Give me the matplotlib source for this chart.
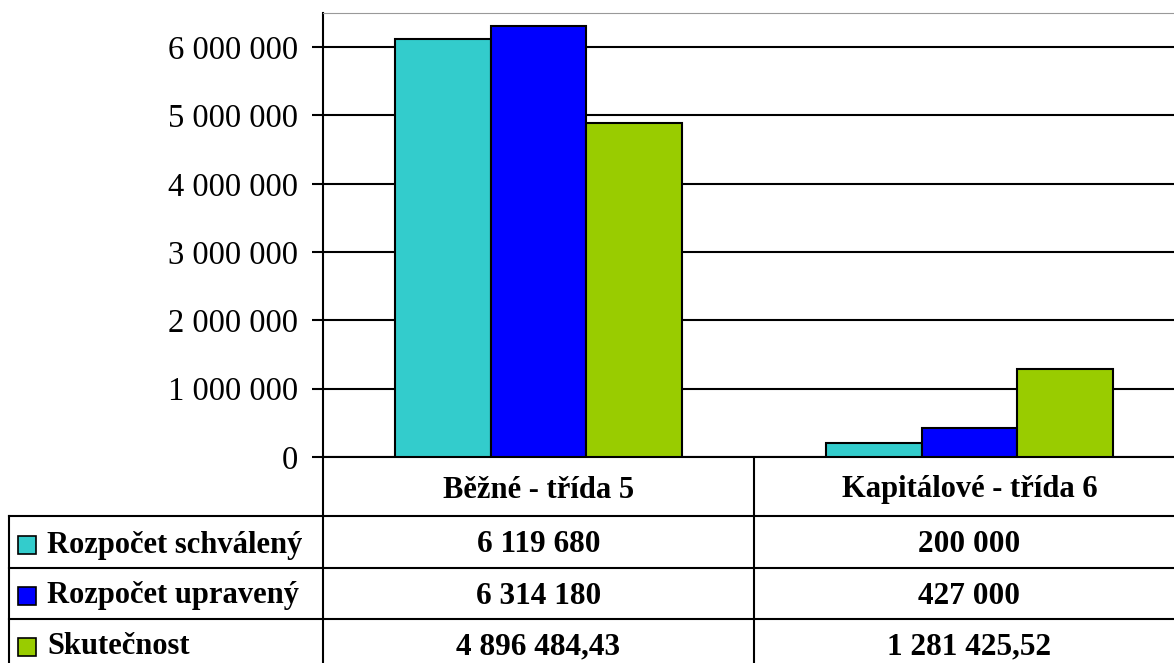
import matplotlib.pyplot as plt
from matplotlib.patches import Rectangle
import numpy as np

categories = ['Běžné - třída 5', 'Kapitálové - třída 6']
series_names = ['Rozpočet schválený', 'Rozpočet upravený', 'Skutečnost']
schvaleny = [6119680, 200000]
upraveny = [6314180, 427000]
skutecnost = [4896484.43, 1281425.52]
values = [schvaleny, upraveny, skutecnost]
colors = ['#33CCCC', '#0000FF', '#99CC00']
yticks = [0, 1000000, 2000000, 3000000, 4000000, 5000000, 6000000]


def cz(v):
    # ceske formatovani: mezera jako oddelovac tisicu, carka pro desetiny
    if float(v).is_integer():
        return f"{int(v):,}".replace(',', ' ')
    s = f"{v:,.2f}"
    return s.replace(',', ' ').replace('.', ',')


W, H = 1174, 663
fig = plt.figure(figsize=(W / 100, H / 100), dpi=100)
plt.rcParams['font.family'] = ['Liberation Serif', 'DejaVu Serif']

# pozadi pro tabulku (souradnice v pixelech)
bg = fig.add_axes([0, 0, 1, 1])
bg.set_xlim(0, W)
bg.set_ylim(H, 0)
bg.axis('off')

x0, x_right = 323, 1185
y_top, y_zero = 13, 457
ax = fig.add_axes([x0 / W, (H - y_zero) / H, (x_right - x0) / W, (y_zero - y_top) / H])

n = len(series_names)
w = 0.2227
x = np.arange(len(categories))
for i in range(n):
    ax.bar(x + (i - 1) * w, values[i], w, color=colors[i], edgecolor='black',
           linewidth=1.5, zorder=3)

ax.set_xlim(-0.5, len(categories) - 0.5)
ax.set_ylim(0, 6500000)
ax.set_yticks(yticks)
ax.set_yticklabels([cz(t) for t in yticks], fontsize=23.5)
ax.set_xticks([])
ax.yaxis.grid(True, color='black', linewidth=1.5, zorder=0)
ax.tick_params(axis='y', length=8, width=1.5, pad=10)
ax.spines['left'].set_linewidth(1.5)
ax.spines['bottom'].set_linewidth(1.5)
ax.spines['top'].set_color('#999999')
ax.spines['right'].set_visible(False)

# tabulka s daty
col_w = (x_right - x0) / len(categories)
centers = [x0 + col_w * (i + 0.5) for i in range(len(categories))]
row_lines = [516, 568, 619]
lw = 1.5
for yl in row_lines:
    bg.plot([9, W], [yl, yl], color='black', lw=lw)
bg.plot([9, 9], [516, H], color='black', lw=lw)
bg.plot([x0, x0], [y_zero, H], color='black', lw=lw)
bg.plot([x0 + col_w, x0 + col_w], [y_zero, H], color='black', lw=lw)

for c, cx in zip(categories, centers):
    bg.text(cx, 490, c, ha='center', va='center', fontsize=22, fontweight='bold')

row_centers = [545, 596, 647]
for i, name in enumerate(series_names):
    yc = row_centers[i]
    bg.add_patch(Rectangle((18, yc - 9), 18, 18, facecolor=colors[i],
                           edgecolor='black', lw=1.2))
    bg.text(47, yc, name, ha='left', va='center', fontsize=22, fontweight='bold')
    for j, cx in enumerate(centers):
        bg.text(cx, yc, cz(values[i][j]), ha='center', va='center',
                fontsize=22.5, fontweight='bold')

fig.savefig('out.png', dpi=100)
